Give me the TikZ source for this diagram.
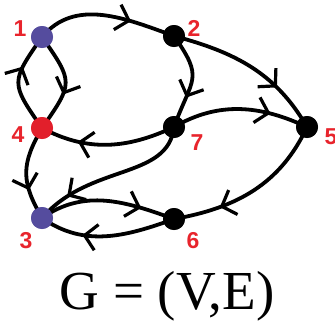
\documentclass[tikz,border=0pt]{standalone}
\usepackage{fontspec}
\setmainfont{Liberation Serif}
\newfontfamily\labfont{Liberation Sans}
\usetikzlibrary{arrows.meta,decorations.markings}
\definecolor{vpurple}{HTML}{554C9E}
\definecolor{vred}{HTML}{E21F2B}
\definecolor{lred}{HTML}{E8242C}
\begin{document}
\begin{tikzpicture}[x=1pt,y=1pt,
  vtx/.style={circle,fill=black,inner sep=0pt,minimum size=22pt},
  lab/.style={text=lred,font=\labfont\bfseries\fontsize{23}{23}\selectfont,inner sep=0pt},
  edge/.style={line width=3.8pt,black},
  marr/.style={postaction={decorate,decoration={markings,mark=at position #1 with {\arrow[line width=3.2pt]{Straight Barb[length=12pt,width=26pt]}}}}}
]
\useasboundingbox (0,0) rectangle (335,325);
% nodes
\node[vtx,fill=vpurple] (n1) at (42,288) {};
\node[vtx] (n2) at (174,289) {};
\node[vtx,fill=vred] (n4) at (42,197) {};
\node[vtx] (n7) at (174,198) {};
\node[vtx] (n5) at (307,198) {};
\node[vtx,fill=vpurple] (n3) at (42,107) {};
\node[vtx] (n6) at (174,106) {};
% labels
\node[lab] (l1) at (20,296) {1};
\node[lab] (l2) at (194,297) {2};
\node[lab] (l4) at (18,190) {4};
\node[lab] (l7) at (197,182) {7};
\node[lab] (l5) at (331,188) {5};
\node[lab] (l3) at (26,84) {3};
\node[lab] (l6) at (193,84) {6};
% edges
\draw[edge,marr=0.68] (n1.center) to[out=50,in=160] (n2.center);
\draw[edge,marr=0.7] (n2.center) to[out=-15,in=120] (n5.center);
\draw[edge,marr=0.68] (n2.center) to[out=-55,in=70,looseness=1.5] (n7.center);
\draw[edge,marr=0.72] (n7.center) to[out=30,in=155] (n5.center);
\draw[edge,marr=0.62] (n1.center) to[out=-55,in=55,looseness=1.55] (n4.center);
\draw[edge,marr=0.66] (n4.center) to[out=125,in=-125,looseness=1.55] (n1.center);
\draw[edge,marr=0.72] (n7.center) to[out=205,in=-28] (n4.center);
\draw[edge,marr=0.68] (n4.center) to[out=-120,in=120,looseness=1.2] (n3.center);
\draw[edge,marr=0.8] (n7.center) .. controls (168,145) and (90,162) .. (n3.center);
\draw[edge,marr=0.75] (n3.center) to[out=35,in=160] (n6.center);
\draw[edge,marr=0.68] (n6.center) to[out=200,in=-35] (n3.center);
\draw[edge,marr=0.72] (n5.center) to[out=-115,in=10] (n6.center);
% redraw vertices on top
\node[vtx,fill=vpurple] at (n1) {};
\node[vtx] at (n2) {};
\node[vtx,fill=vred] at (n4) {};
\node[vtx] at (n7) {};
\node[vtx] at (n5) {};
\node[vtx,fill=vpurple] at (n3) {};
\node[vtx] at (n6) {};
\node[font=\fontsize{55}{55}\selectfont,inner sep=0pt] (title) at (167,29) {G = (V,E)};
\end{tikzpicture}
\end{document}
